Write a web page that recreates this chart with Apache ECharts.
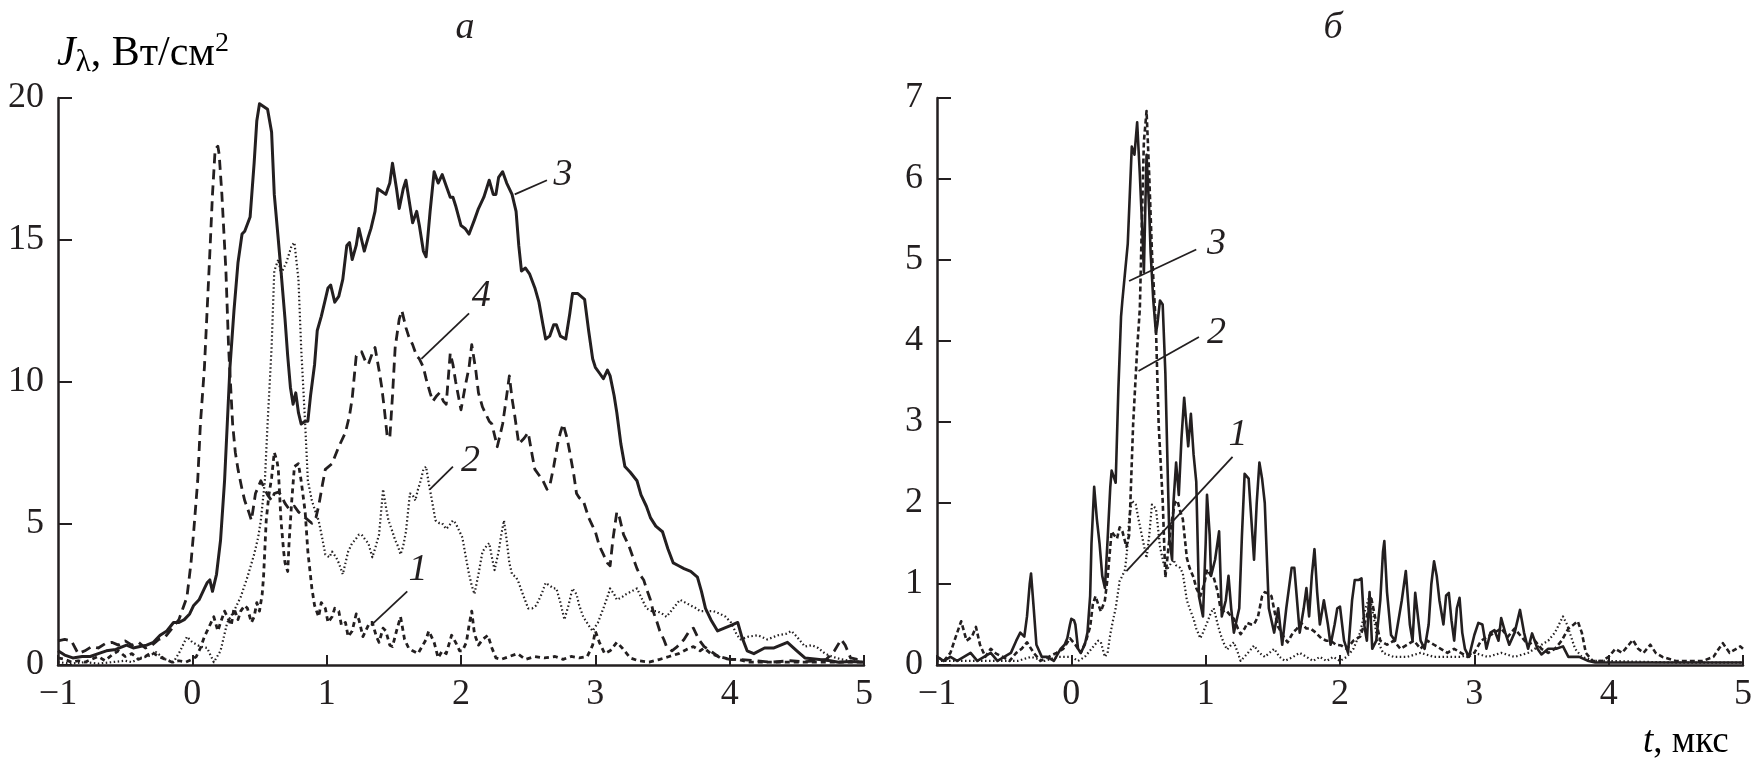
<!DOCTYPE html>
<html><head><meta charset="utf-8">
<script src="https://cdn.jsdelivr.net/npm/echarts@6/dist/echarts.min.js"></script>
<style>html,body{margin:0;padding:0;background:#fff}#c{width:1756px;height:766px}</style>
</head><body><div id="c"></div><script>
// ---------- data (t in µs, J in W/cm²) ----------
const xTicks = [-1, 0, 1, 2, 3, 4, 5];
const yTicksA = [0, 5, 10, 15, 20];
const yTicksB = [0, 1, 2, 3, 4, 5, 6, 7];

// panel а
const a1 = [[-1,0.25],[-0.95,0.2],[-0.9,0.1],[-0.85,0.15],[-0.8,0.1],[-0.75,0.2],[-0.7,0.3],[-0.65,0.15],[-0.6,0.35],[-0.55,0.5],[-0.5,0.3],[-0.45,0.4],[-0.4,0.2],[-0.35,0.3],[-0.3,0.45],[-0.25,0.3],[-0.2,0.2],[-0.15,0.1],[-0.1,0.15],[-0.05,0.1],[0,0.2],[0.03,0.3],[0.06,0.6],[0.09,1.0],[0.12,1.3],[0.16,1.7],[0.19,1.2],[0.21,1.5],[0.24,1.9],[0.26,1.7],[0.29,1.4],[0.31,2.0],[0.34,1.6],[0.36,1.9],[0.39,2.1],[0.41,2.0],[0.44,1.5],[0.46,1.7],[0.48,2.2],[0.5,1.9],[0.52,2.5],[0.53,3.1],[0.55,5.1],[0.57,6.0],[0.59,6.6],[0.61,7.5],[0.63,7.2],[0.64,6.9],[0.66,5.1],[0.68,4.0],[0.69,3.6],[0.71,3.3],[0.72,4.3],[0.74,5.8],[0.76,7.0],[0.79,7.1],[0.81,6.5],[0.84,5.4],[0.86,4.0],[0.89,2.7],[0.91,2.1],[0.94,1.7],[0.96,2.2],[0.99,2.0],[1.01,1.5],[1.04,1.7],[1.06,2.0],[1.09,1.9],[1.11,1.4],[1.14,1.5],[1.16,1.0],[1.19,1.2],[1.22,1.8],[1.24,1.6],[1.27,1.0],[1.29,1.2],[1.32,1.5],[1.34,1.5],[1.37,1.0],[1.39,0.8],[1.42,1.3],[1.44,1.2],[1.47,0.7],[1.49,0.65],[1.52,1.2],[1.55,1.7],[1.58,0.9],[1.61,0.6],[1.64,0.5],[1.68,0.4],[1.71,0.65],[1.74,0.9],[1.76,1.2],[1.8,0.8],[1.83,0.25],[1.86,0.5],[1.89,0.4],[1.93,1.05],[1.96,0.8],[1.99,0.5],[2.01,0.5],[2.04,0.8],[2.06,1.4],[2.08,1.9],[2.1,1.1],[2.13,0.7],[2.16,0.9],[2.2,1.05],[2.23,0.6],[2.26,0.25],[2.3,0.2],[2.36,0.3],[2.42,0.4],[2.48,0.2],[2.55,0.3],[2.62,0.25],[2.7,0.3],[2.76,0.2],[2.82,0.3],[2.88,0.25],[2.94,0.3],[2.98,0.7],[3.0,1.2],[3.03,0.8],[3.07,0.4],[3.11,0.5],[3.16,0.8],[3.2,0.6],[3.26,0.25],[3.32,0.15],[3.4,0.1],[3.48,0.2],[3.55,0.3],[3.62,0.4],[3.68,0.55],[3.73,0.65],[3.78,0.5],[3.81,0.6],[3.86,0.4],[3.92,0.3],[4.0,0.2],[4.06,0.2],[4.15,0.1],[4.3,0.1],[4.5,0.1],[4.7,0.1],[5.0,0.1]];
const a2 = [[-1,0.1],[-0.9,0.05],[-0.8,0.1],[-0.7,0.05],[-0.6,0.1],[-0.5,0.15],[-0.45,0.1],[-0.39,0.25],[-0.33,0.3],[-0.27,0.45],[-0.2,0.2],[-0.14,0.1],[-0.09,0.5],[-0.04,1.0],[0,0.8],[0.06,0.65],[0.11,0.6],[0.16,0.1],[0.21,0.5],[0.26,1.5],[0.31,1.9],[0.36,2.4],[0.41,3.1],[0.46,3.9],[0.49,4.5],[0.51,5.1],[0.54,6.5],[0.56,8.5],[0.59,11.2],[0.61,13.9],[0.64,14.3],[0.66,13.8],[0.68,14.0],[0.7,14.2],[0.72,14.5],[0.74,14.8],[0.76,14.9],[0.79,13.6],[0.81,11.2],[0.84,8.5],[0.86,6.5],[0.89,5.8],[0.91,5.5],[0.94,5.1],[0.97,4.4],[0.99,3.9],[1.02,3.8],[1.04,4.0],[1.07,3.8],[1.09,3.6],[1.12,3.2],[1.14,3.6],[1.16,4.0],[1.19,4.3],[1.21,4.4],[1.24,4.6],[1.26,4.6],[1.29,4.4],[1.31,4.3],[1.34,3.8],[1.36,4.1],[1.39,4.6],[1.42,6.2],[1.44,5.6],[1.46,5.1],[1.49,4.7],[1.51,4.4],[1.53,4.2],[1.55,3.9],[1.57,4.2],[1.59,4.7],[1.62,6.05],[1.64,6.0],[1.66,5.8],[1.68,6.2],[1.7,6.5],[1.72,6.9],[1.74,7.0],[1.76,6.4],[1.78,5.9],[1.81,5.1],[1.84,5.0],[1.86,5.0],[1.89,4.8],[1.91,4.9],[1.94,5.1],[1.96,5.0],[1.99,4.7],[2.01,4.5],[2.04,3.7],[2.06,3.2],[2.08,2.8],[2.1,2.5],[2.13,3.2],[2.16,4.0],[2.19,4.2],[2.21,4.3],[2.23,3.8],[2.25,3.35],[2.28,4.0],[2.3,4.6],[2.32,5.1],[2.34,4.4],[2.36,3.6],[2.38,3.2],[2.41,3.1],[2.43,2.9],[2.46,2.5],[2.5,2.0],[2.53,2.0],[2.56,2.1],[2.6,2.5],[2.63,2.9],[2.66,2.8],[2.69,2.7],[2.71,2.7],[2.74,2.2],[2.77,1.6],[2.8,2.1],[2.83,2.7],[2.86,2.5],[2.88,2.1],[2.91,1.7],[2.95,1.4],[2.98,1.2],[3.02,1.5],[3.06,2.0],[3.09,2.4],[3.11,2.7],[3.14,2.5],[3.16,2.3],[3.2,2.4],[3.23,2.5],[3.27,2.6],[3.31,2.7],[3.35,2.3],[3.38,2.0],[3.42,1.9],[3.46,1.9],[3.5,1.8],[3.53,1.7],[3.58,2.0],[3.63,2.3],[3.67,2.2],[3.71,2.1],[3.75,2.0],[3.78,1.9],[3.83,1.9],[3.88,1.9],[3.93,1.8],[3.97,1.7],[4.01,1.5],[4.05,1.1],[4.08,0.9],[4.14,1.0],[4.21,1.05],[4.28,0.9],[4.36,1.05],[4.42,1.1],[4.46,1.2],[4.5,1.0],[4.56,0.65],[4.61,0.7],[4.66,0.6],[4.71,0.4],[4.76,0.3],[4.83,0.2],[4.9,0.15],[5.0,0.1]];
const a3 = [[-1,0.5],[-0.95,0.35],[-0.89,0.25],[-0.82,0.3],[-0.76,0.3],[-0.7,0.4],[-0.64,0.5],[-0.57,0.55],[-0.49,0.7],[-0.44,0.6],[-0.39,0.65],[-0.34,0.7],[-0.29,0.8],[-0.24,1.05],[-0.19,1.2],[-0.14,1.5],[-0.1,1.5],[-0.06,1.6],[-0.02,1.8],[0.01,2.1],[0.05,2.3],[0.09,2.7],[0.11,2.9],[0.13,3.0],[0.15,2.6],[0.18,3.2],[0.21,4.4],[0.24,6.5],[0.26,8.5],[0.28,10.5],[0.31,12.5],[0.34,14.2],[0.37,15.2],[0.39,15.3],[0.43,15.8],[0.46,17.7],[0.48,19.2],[0.5,19.8],[0.53,19.7],[0.56,19.6],[0.59,18.8],[0.61,16.6],[0.64,15.0],[0.66,13.9],[0.69,12.2],[0.71,10.9],[0.73,9.8],[0.75,9.2],[0.77,9.6],[0.79,8.9],[0.81,8.5],[0.84,8.6],[0.86,8.6],[0.88,9.5],[0.91,10.6],[0.93,11.8],[0.96,12.3],[0.99,12.9],[1.01,13.3],[1.03,13.4],[1.06,12.8],[1.09,13.0],[1.12,13.6],[1.15,14.8],[1.17,14.9],[1.19,14.3],[1.22,14.8],[1.24,15.4],[1.26,15.0],[1.28,14.6],[1.31,15.1],[1.33,15.4],[1.36,16.0],[1.38,16.8],[1.41,16.7],[1.44,16.6],[1.47,17.0],[1.49,17.7],[1.52,16.8],[1.54,16.1],[1.57,16.8],[1.59,17.1],[1.62,16.2],[1.64,15.6],[1.67,16.0],[1.69,15.5],[1.72,14.6],[1.74,14.4],[1.77,16.0],[1.8,17.4],[1.83,17.0],[1.86,17.3],[1.89,16.9],[1.92,16.5],[1.94,16.5],[1.96,16.2],[2.0,15.5],[2.03,15.4],[2.06,15.2],[2.1,15.7],[2.13,16.1],[2.17,16.5],[2.21,17.1],[2.24,16.6],[2.26,16.6],[2.28,17.2],[2.31,17.4],[2.34,17.0],[2.38,16.6],[2.41,16.0],[2.43,14.8],[2.45,13.9],[2.48,14.0],[2.51,13.8],[2.55,13.3],[2.58,12.8],[2.61,12.0],[2.63,11.5],[2.66,11.6],[2.69,12.0],[2.71,12.0],[2.74,11.6],[2.78,11.5],[2.81,12.4],[2.83,13.1],[2.87,13.1],[2.92,12.9],[2.95,11.8],[2.98,10.8],[3.0,10.5],[3.03,10.3],[3.06,10.1],[3.09,10.4],[3.11,10.2],[3.14,9.5],[3.16,8.9],[3.19,7.8],[3.22,7.0],[3.26,6.8],[3.31,6.5],[3.34,6.0],[3.38,5.6],[3.41,5.2],[3.45,4.9],[3.5,4.7],[3.54,4.1],[3.58,3.6],[3.62,3.5],[3.66,3.4],[3.71,3.3],[3.76,3.1],[3.79,2.6],[3.82,2.0],[3.86,1.6],[3.91,1.2],[3.96,1.3],[4.01,1.4],[4.06,1.5],[4.09,1.0],[4.13,0.5],[4.18,0.4],[4.26,0.6],[4.33,0.6],[4.43,0.8],[4.5,0.5],[4.56,0.25],[4.65,0.2],[4.75,0.15],[4.81,0.1],[4.9,0.12],[5.0,0.1]];
const a4 = [[-1,0.85],[-0.95,0.9],[-0.9,0.85],[-0.85,0.4],[-0.8,0.5],[-0.75,0.65],[-0.7,0.6],[-0.65,0.75],[-0.6,0.8],[-0.55,0.7],[-0.5,0.85],[-0.45,0.7],[-0.4,0.8],[-0.35,0.6],[-0.3,0.7],[-0.25,0.9],[-0.2,1.0],[-0.15,1.3],[-0.1,1.6],[-0.07,2.0],[-0.04,2.4],[-0.01,3.6],[0.01,4.7],[0.04,6.5],[0.06,8.5],[0.09,10.5],[0.11,12.5],[0.13,14.5],[0.15,16.6],[0.17,18.2],[0.19,18.3],[0.2,18.0],[0.22,16.6],[0.25,13.9],[0.27,11.2],[0.3,8.5],[0.32,7.5],[0.34,6.9],[0.37,6.2],[0.39,5.8],[0.42,5.4],[0.44,5.1],[0.47,6.05],[0.51,6.5],[0.54,6.2],[0.56,6.0],[0.59,5.8],[0.61,6.05],[0.64,6.1],[0.66,6.0],[0.69,5.7],[0.72,5.5],[0.76,5.6],[0.79,5.4],[0.84,5.2],[0.89,5.0],[0.92,5.2],[0.94,5.6],[0.97,6.4],[0.99,6.9],[1.04,7.1],[1.09,7.7],[1.14,8.2],[1.17,8.8],[1.19,9.4],[1.22,10.9],[1.26,11.05],[1.29,10.7],[1.31,10.6],[1.34,11.0],[1.36,11.2],[1.39,10.4],[1.41,9.8],[1.43,9.0],[1.45,8.1],[1.47,8.0],[1.49,9.5],[1.51,11.2],[1.54,12.2],[1.56,12.5],[1.59,11.9],[1.61,11.6],[1.64,11.3],[1.67,10.9],[1.69,10.8],[1.72,10.5],[1.74,10.1],[1.77,9.6],[1.79,9.3],[1.82,9.5],[1.84,9.6],[1.87,9.3],[1.89,9.2],[1.92,11.0],[1.94,10.6],[1.96,10.0],[2.0,9.0],[2.03,9.8],[2.06,10.5],[2.08,11.3],[2.11,10.4],[2.13,9.6],[2.16,9.1],[2.18,8.9],[2.21,8.6],[2.23,8.5],[2.27,7.7],[2.31,8.5],[2.34,9.5],[2.36,10.2],[2.38,9.4],[2.4,8.8],[2.43,7.8],[2.47,8.0],[2.5,8.2],[2.53,7.4],[2.55,6.9],[2.58,6.7],[2.61,6.5],[2.64,6.2],[2.66,6.3],[2.69,7.0],[2.72,7.8],[2.74,8.2],[2.76,8.5],[2.79,8.0],[2.81,7.5],[2.84,6.7],[2.86,6.05],[2.88,5.9],[2.91,5.8],[2.95,5.2],[2.98,4.9],[3.0,4.7],[3.03,4.2],[3.06,3.9],[3.09,3.6],[3.11,3.5],[3.13,4.4],[3.16,5.4],[3.18,5.2],[3.21,4.6],[3.25,4.2],[3.28,3.8],[3.31,3.4],[3.33,3.2],[3.36,3.0],[3.38,2.7],[3.41,2.3],[3.43,1.9],[3.46,1.5],[3.48,1.2],[3.51,0.9],[3.53,0.65],[3.57,0.5],[3.61,0.65],[3.66,0.9],[3.7,1.2],[3.73,1.3],[3.77,0.9],[3.81,0.65],[3.87,0.45],[3.93,0.25],[4.0,0.2],[4.06,0.2],[4.2,0.15],[4.31,0.1],[4.45,0.15],[4.56,0.12],[4.65,0.15],[4.72,0.2],[4.78,0.5],[4.83,0.9],[4.86,0.7],[4.9,0.25],[4.95,0.2],[5.0,0.2]];

// panel б
const b1 = [[-1,0.05],[-0.8,0.05],[-0.6,0.05],[-0.4,0.05],[-0.3,0.1],[-0.2,0.05],[-0.1,0.1],[0,0.1],[0.05,0.05],[0.1,0.1],[0.15,0.2],[0.2,0.3],[0.22,0.28],[0.25,0.1],[0.27,0.15],[0.29,0.38],[0.31,0.55],[0.33,0.7],[0.36,1.04],[0.38,1.1],[0.4,1.18],[0.42,1.5],[0.43,1.8],[0.45,2.03],[0.48,1.98],[0.5,1.8],[0.53,1.56],[0.56,1.32],[0.58,1.6],[0.6,1.98],[0.63,1.93],[0.66,1.46],[0.69,1.23],[0.72,1.2],[0.74,1.25],[0.76,1.3],[0.78,1.23],[0.81,1.2],[0.83,1.13],[0.86,0.8],[0.88,0.7],[0.91,0.57],[0.93,0.45],[0.96,0.33],[0.98,0.4],[1.01,0.52],[1.04,0.65],[1.06,0.7],[1.09,0.5],[1.11,0.38],[1.14,0.25],[1.16,0.19],[1.19,0.25],[1.21,0.28],[1.24,0.15],[1.26,0.05],[1.31,0.14],[1.36,0.24],[1.4,0.15],[1.44,0.1],[1.51,0.2],[1.55,0.1],[1.59,0.05],[1.65,0.1],[1.7,0.15],[1.75,0.1],[1.8,0.05],[1.85,0.1],[1.9,0.05],[1.95,0.1],[2.0,0.05],[2.05,0.1],[2.1,0.2],[2.15,0.4],[2.19,0.7],[2.22,0.85],[2.25,0.6],[2.28,0.3],[2.32,0.15],[2.4,0.1],[2.5,0.1],[2.6,0.15],[2.7,0.1],[2.8,0.1],[2.9,0.1],[3.0,0.15],[3.1,0.1],[3.2,0.15],[3.3,0.1],[3.4,0.15],[3.5,0.25],[3.55,0.3],[3.6,0.4],[3.63,0.5],[3.66,0.6],[3.69,0.5],[3.72,0.35],[3.75,0.2],[3.8,0.1],[3.9,0.05],[4.0,0.05],[4.5,0.03],[5.0,0.03]];
const b2 = [[-1,0.1],[-0.95,0.05],[-0.9,0.15],[-0.86,0.35],[-0.82,0.54],[-0.78,0.3],[-0.74,0.35],[-0.71,0.47],[-0.68,0.25],[-0.64,0.1],[-0.6,0.2],[-0.56,0.14],[-0.51,0.1],[-0.46,0.05],[-0.41,0.15],[-0.37,0.2],[-0.33,0.28],[-0.28,0.15],[-0.23,0.05],[-0.17,0.1],[-0.11,0.15],[-0.06,0.2],[-0.01,0.33],[0.03,0.25],[0.07,0.15],[0.11,0.3],[0.14,0.47],[0.16,0.75],[0.18,0.85],[0.2,0.75],[0.22,0.66],[0.25,0.8],[0.27,1.08],[0.3,1.65],[0.32,1.6],[0.34,1.56],[0.36,1.7],[0.38,1.65],[0.41,1.46],[0.43,1.6],[0.44,2.03],[0.46,2.97],[0.49,3.9],[0.51,4.4],[0.53,5.8],[0.54,6.46],[0.56,6.84],[0.58,6.04],[0.6,5.1],[0.63,4.15],[0.65,2.97],[0.68,2.03],[0.7,1.08],[0.73,1.56],[0.75,1.8],[0.77,2.0],[0.79,2.03],[0.81,1.9],[0.83,1.8],[0.86,1.32],[0.88,1.2],[0.91,1.08],[0.93,0.95],[0.96,0.85],[0.99,1.0],[1.01,1.18],[1.04,1.1],[1.06,1.08],[1.09,0.9],[1.11,0.7],[1.14,0.65],[1.16,0.66],[1.19,0.6],[1.21,0.57],[1.24,0.45],[1.26,0.38],[1.29,0.45],[1.31,0.52],[1.34,0.5],[1.36,0.5],[1.39,0.6],[1.42,0.85],[1.44,0.9],[1.47,0.88],[1.49,0.85],[1.52,0.6],[1.54,0.47],[1.58,0.35],[1.61,0.28],[1.65,0.4],[1.68,0.45],[1.71,0.52],[1.75,0.45],[1.78,0.45],[1.82,0.4],[1.86,0.33],[1.9,0.3],[1.93,0.3],[1.97,0.25],[2.01,0.24],[2.05,0.2],[2.1,0.3],[2.15,0.35],[2.2,0.6],[2.23,0.85],[2.26,0.6],[2.3,0.3],[2.35,0.25],[2.4,0.3],[2.45,0.2],[2.5,0.25],[2.55,0.3],[2.6,0.2],[2.65,0.3],[2.7,0.25],[2.75,0.2],[2.8,0.15],[2.85,0.2],[2.9,0.15],[2.95,0.1],[3.0,0.15],[3.05,0.3],[3.1,0.35],[3.15,0.4],[3.2,0.45],[3.25,0.35],[3.3,0.45],[3.35,0.35],[3.4,0.25],[3.45,0.3],[3.5,0.2],[3.55,0.15],[3.6,0.2],[3.65,0.3],[3.7,0.45],[3.74,0.5],[3.77,0.54],[3.8,0.4],[3.83,0.15],[3.88,0.05],[3.95,0.05],[4.0,0.1],[4.05,0.2],[4.1,0.15],[4.15,0.25],[4.18,0.31],[4.22,0.2],[4.26,0.15],[4.31,0.25],[4.35,0.15],[4.4,0.1],[4.5,0.05],[4.6,0.05],[4.7,0.05],[4.78,0.1],[4.82,0.2],[4.85,0.27],[4.9,0.15],[4.95,0.2],[4.98,0.23],[5.0,0.2]];
const b3 = [[-1,0.1],[-0.95,0.05],[-0.9,0.1],[-0.85,0.05],[-0.8,0.1],[-0.75,0.15],[-0.7,0.05],[-0.65,0.1],[-0.6,0.15],[-0.55,0.05],[-0.5,0.1],[-0.45,0.15],[-0.41,0.3],[-0.38,0.4],[-0.35,0.35],[-0.33,0.6],[-0.31,1.0],[-0.3,1.13],[-0.28,0.7],[-0.26,0.25],[-0.22,0.1],[-0.18,0.1],[-0.13,0.05],[-0.08,0.2],[-0.05,0.25],[-0.03,0.33],[-0.01,0.5],[0,0.57],[0.02,0.55],[0.03,0.5],[0.05,0.2],[0.07,0.15],[0.1,0.25],[0.12,0.4],[0.14,0.85],[0.15,1.5],[0.17,2.2],[0.19,1.8],[0.21,1.5],[0.23,1.1],[0.25,0.95],[0.27,1.55],[0.29,2.2],[0.3,2.4],[0.32,2.3],[0.33,2.25],[0.35,3.4],[0.37,4.3],[0.38,4.5],[0.4,4.85],[0.42,5.2],[0.43,5.6],[0.45,6.4],[0.47,6.3],[0.49,6.7],[0.51,6.05],[0.53,5.3],[0.54,4.85],[0.55,5.6],[0.56,6.3],[0.58,5.6],[0.59,5.1],[0.61,4.5],[0.63,4.1],[0.64,4.2],[0.66,4.5],[0.68,4.45],[0.7,3.6],[0.72,2.2],[0.73,1.55],[0.75,1.3],[0.76,2.0],[0.78,2.5],[0.8,2.1],[0.82,2.8],[0.84,3.3],[0.86,2.9],[0.87,2.7],[0.89,3.1],[0.91,2.6],[0.93,2.26],[0.95,0.85],[0.98,0.6],[1.0,1.5],[1.01,2.1],[1.03,1.6],[1.04,1.1],[1.07,1.3],[1.1,1.65],[1.12,0.6],[1.15,0.8],[1.17,1.1],[1.19,0.7],[1.21,0.4],[1.25,0.7],[1.27,1.6],[1.29,2.36],[1.32,2.3],[1.34,1.8],[1.36,1.3],[1.38,2.0],[1.4,2.5],[1.42,2.3],[1.44,2.0],[1.47,0.7],[1.51,0.4],[1.54,0.7],[1.57,0.25],[1.6,0.7],[1.62,0.95],[1.64,1.2],[1.66,1.2],[1.68,0.8],[1.7,0.4],[1.73,0.7],[1.75,0.95],[1.77,0.6],[1.79,1.1],[1.81,1.43],[1.83,0.9],[1.85,0.5],[1.88,0.8],[1.91,0.5],[1.93,0.25],[1.96,0.5],[1.98,0.7],[2.0,0.72],[2.03,0.3],[2.06,0.15],[2.09,0.8],[2.11,1.05],[2.14,1.05],[2.16,1.07],[2.18,0.5],[2.2,0.3],[2.22,0.9],[2.24,0.2],[2.27,0.3],[2.3,0.8],[2.32,1.4],[2.33,1.53],[2.35,0.9],[2.38,0.37],[2.41,0.3],[2.43,0.5],[2.46,0.8],[2.49,1.16],[2.52,0.5],[2.54,0.3],[2.56,0.89],[2.58,0.6],[2.6,0.3],[2.63,0.2],[2.66,0.5],[2.68,1.0],[2.7,1.28],[2.72,1.1],[2.74,0.8],[2.77,0.5],[2.79,0.86],[2.81,0.89],[2.83,0.55],[2.85,0.3],[2.87,0.7],[2.89,0.83],[2.91,0.4],[2.93,0.2],[2.96,0.1],[3.0,0.37],[3.03,0.52],[3.06,0.5],[3.09,0.2],[3.12,0.4],[3.15,0.43],[3.18,0.3],[3.2,0.58],[3.23,0.4],[3.26,0.25],[3.3,0.4],[3.34,0.68],[3.37,0.4],[3.4,0.2],[3.43,0.39],[3.47,0.2],[3.5,0.13],[3.55,0.2],[3.61,0.2],[3.66,0.23],[3.7,0.1],[3.78,0.1],[3.85,0.05],[3.9,0.03],[4.0,0.03],[4.5,0.03],[5.0,0.03]];

// curve labels: [label, text position, leader start, leader end]
const notesA = [['3',[2.76,17.3],[2.4,16.6],[2.64,17.1]],['4',[2.15,13.0],[1.705,10.8],[2.06,12.4]],['2',[2.07,7.2],[1.77,6.2],[1.94,7.0]],['1',[1.68,3.35],[1.33,1.4],[1.6,2.6]]];
const notesB = [['3',[1.08,5.2],[0.43,4.74],[0.93,5.13]],['2',[1.08,4.1],[0.5,3.63],[0.95,4.05]],['1',[1.24,2.84],[0.41,1.16],[1.2,2.57]]];

// ---------- styling ----------
const INK = '#231f20';
const FONT = 'Liberation Serif';
const chart = echarts.init(document.getElementById('c'), null, {renderer: 'canvas'});

function xAx(i) {
  return {gridIndex: i, type: 'value', min: xTicks[0], max: xTicks[xTicks.length-1], interval: 1,
    axisLine: {show: true, onZero: false, lineStyle: {color: INK, width: 2.5}},
    axisTick: {show: true, inside: true, length: 10, lineStyle: {color: INK, width: 2}},
    axisLabel: {fontFamily: FONT, fontSize: 36, color: INK, margin: 12,
      formatter: v => (v < 0 ? '\u2212' + Math.abs(v) : String(v))},
    splitLine: {show: false}};
}
function yAx(i, ticks) {
  return {gridIndex: i, type: 'value', min: ticks[0], max: ticks[ticks.length-1], interval: ticks[1]-ticks[0],
    axisLine: {show: true, onZero: false, lineStyle: {color: INK, width: 2.5}},
    axisTick: {show: true, inside: true, length: 14, lineStyle: {color: INK, width: 2}},
    axisLabel: {fontFamily: FONT, fontSize: 36, color: INK, margin: 14},
    splitLine: {show: false}};
}
function curve(i, data, w, type) {
  return {type: 'line', xAxisIndex: i, yAxisIndex: i, data: data, showSymbol: false, symbol: 'none',
    animation: false, z: 3, lineStyle: {color: INK, width: w, type: type, cap: 'butt', join: 'round'}};
}
function leaders(i, list) {
  return list.map(n => ({type: 'line', xAxisIndex: i, yAxisIndex: i, data: [n[2], n[3]], showSymbol: false,
    symbol: 'none', animation: false, z: 4, lineStyle: {color: INK, width: 1.8}}));
}

const baseGraphic = [
  {type: 'text', x: 465, y: 28, style: {text: 'а', font: 'italic 38px ' + FONT, fill: INK, align: 'center', verticalAlign: 'middle'}},
  {type: 'text', x: 1333, y: 28, style: {text: 'б', font: 'italic 38px ' + FONT, fill: INK, align: 'center', verticalAlign: 'middle'}},
  {type: 'text', x: 57, y: 54, style: {
    text: '{i|J}{s|λ}{n|, Вт/см}{p|2}', verticalAlign: 'middle', align: 'left',
    rich: {
      i: {fontFamily: FONT, fontStyle: 'italic', fontSize: 42, color: INK, lineHeight: 48},
      s: {fontFamily: FONT, fontSize: 31, color: INK, lineHeight: 48, padding: [18, 0, 0, 0]},
      n: {fontFamily: FONT, fontSize: 42, color: INK, lineHeight: 48},
      p: {fontFamily: FONT, fontSize: 28, color: INK, lineHeight: 48, padding: [0, 0, 20, 0]}
    }}},
  {type: 'text', x: 1643, y: 742, style: {
    text: '{i|t}{n|, мкс}', verticalAlign: 'middle', align: 'left',
    rich: {
      i: {fontFamily: FONT, fontStyle: 'italic', fontSize: 37, color: INK},
      n: {fontFamily: FONT, fontSize: 37, color: INK}
    }}}
];

const option = {
  backgroundColor: '#ffffff',
  animation: false,
  grid: [
    {left: 58, top: 98, width: 806, height: 567},
    {left: 937, top: 98, width: 806, height: 567}
  ],
  xAxis: [xAx(0), xAx(1)],
  yAxis: [yAx(0, yTicksA), yAx(1, yTicksB)],
  series: [
    curve(0, a2, 2.2, [1.5, 2.5]),
    curve(0, a1, 2.8, [5, 4]),
    curve(0, a4, 2.8, [10, 6]),
    curve(0, a3, 3, 'solid'),
    curve(1, b1, 2.2, [1.5, 2.5]),
    curve(1, b2, 2.6, [5, 3]),
    curve(1, b3, 2.6, 'solid')
  ].concat(leaders(0, notesA), leaders(1, notesB)),
  graphic: baseGraphic
};
chart.setOption(option);

// curve numbers placed through the axes' own scales
const numLabels = [];
[[0, notesA], [1, notesB]].forEach(([gi, list]) => {
  list.forEach(n => {
    const p = chart.convertToPixel({gridIndex: gi}, n[1]);
    numLabels.push({type: 'text', x: p[0], y: p[1], z: 10,
      style: {text: n[0], font: 'italic 38px ' + FONT, fill: INK, align: 'center', verticalAlign: 'middle'}});
  });
});
chart.setOption({graphic: baseGraphic.concat(numLabels)});
</script></body></html>
